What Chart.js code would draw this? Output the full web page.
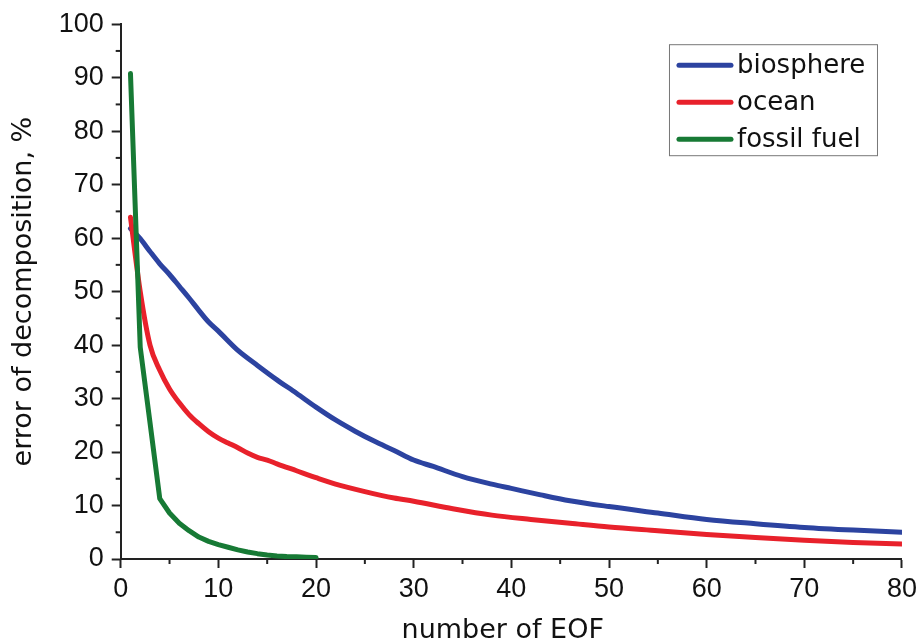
<!DOCTYPE html>
<html>
<head>
<meta charset="utf-8">
<script src="https://cdn.jsdelivr.net/npm/chart.js@4"></script>
<style>
html, body { margin: 0; padding: 0; background: #fff; }
#wrap { width: 922px; height: 644px; }
</style>
</head>
<body>
<div id="wrap"><canvas id="grafico" width="922" height="644"></canvas></div>
<script>
// valores
const etiquetas = ['biosphere', 'ocean', 'fossil fuel'];

const bioX = [1, 2, 3, 4, 5, 6, 7, 8, 9, 10, 12, 14, 16, 18, 20, 22, 24, 26, 28, 30, 32, 35, 38, 40, 43, 46, 50, 55, 60, 65, 70, 75, 80];
const bioY = [61.8, 59.9, 57.5, 55.2, 53.2, 51.0, 48.8, 46.5, 44.3, 42.6, 39.0, 36.2, 33.5, 31.0, 28.4, 26.0, 23.9, 22.0, 20.3, 18.5, 17.3, 15.4, 14.0, 13.2, 12.0, 10.9, 9.8, 8.6, 7.4, 6.6, 5.9, 5.4, 5.0];

const oceX = [1, 2, 3, 4, 5, 6, 7, 8, 9, 10, 11, 12, 13, 14, 15, 16, 18, 20, 22, 25, 28, 30, 34, 38, 42, 46, 50, 55, 60, 65, 70, 75, 80];
const oceY = [63.9, 50.0, 40.0, 35.3, 31.8, 29.2, 27.0, 25.3, 23.8, 22.6, 21.7, 20.8, 19.8, 19.0, 18.5, 17.8, 16.5, 15.2, 14.0, 12.6, 11.4, 10.8, 9.4, 8.2, 7.4, 6.7, 6.0, 5.3, 4.6, 4.0, 3.5, 3.1, 2.8];

const fosX = [1, 2, 3, 4, 5, 6, 7, 8, 9, 10, 11, 12, 13, 14, 15, 16, 17, 18, 19, 20];
const fosY = [90.8, 39.6, 25.5, 11.3, 8.6, 6.7, 5.3, 4.1, 3.3, 2.7, 2.2, 1.7, 1.3, 1.0, 0.75, 0.55, 0.45, 0.4, 0.35, 0.3];

const xMin = 0, xMax = 80, yMin = 0, yMax = 100, paso = 10;

const puntos = (xs, ys) => xs.map((x, i) => ({ x: x, y: ys[i] }));
const fuenteTicks = { family: '"Liberation Sans", Arial, sans-serif', size: 27 };
const fuenteTitulo = { family: '"DejaVu Sans", Verdana, sans-serif', size: 27, lineHeight: 1 };

// ticks menores a mitad de cada intervalo
const ticksMenores = {
    id: 'ticksMenores',
    afterDraw(chart) {
        const { ctx, chartArea, scales } = chart;
        ctx.save();
        ctx.strokeStyle = '#222'; ctx.lineWidth = 2;
        const tx = scales.x.ticks.map(t => t.value);
        for (let i = 0; i < tx.length - 1; i++) {
            const px = scales.x.getPixelForValue((tx[i] + tx[i + 1]) / 2);
            ctx.beginPath(); ctx.moveTo(px, chartArea.bottom); ctx.lineTo(px, chartArea.bottom + 5); ctx.stroke();
        }
        const ty = scales.y.ticks.map(t => t.value);
        for (let i = 0; i < ty.length - 1; i++) {
            const py = scales.y.getPixelForValue((ty[i] + ty[i + 1]) / 2);
            ctx.beginPath(); ctx.moveTo(chartArea.left, py); ctx.lineTo(chartArea.left - 5, py); ctx.stroke();
        }
        ctx.restore();
    }
};

// leyenda con recuadro dentro del área del gráfico
const leyenda = {
    id: 'leyenda',
    afterDraw(chart) {
        const { ctx, chartArea } = chart;
        const izq = chartArea.right - 233, arriba = chartArea.top + 20, ancho = 208, alto = 111;
        ctx.save();
        ctx.fillStyle = '#fff';
        ctx.fillRect(izq, arriba, ancho, alto);
        ctx.strokeStyle = '#777'; ctx.lineWidth = 1;
        ctx.strokeRect(izq + 0.5, arriba + 0.5, ancho, alto);
        ctx.font = '26px "DejaVu Sans", Verdana, sans-serif';
        ctx.textBaseline = 'middle';
        ctx.fillStyle = '#111';
        chart.data.datasets.forEach((ds, i) => {
            const y = arriba + 21 + i * 37;
            ctx.strokeStyle = ds.borderColor; ctx.lineWidth = 5; ctx.lineCap = 'round';
            ctx.beginPath(); ctx.moveTo(izq + 10, y); ctx.lineTo(izq + 62, y); ctx.stroke();
            ctx.fillText(ds.label, izq + 68, y + 1);
        });
        ctx.restore();
    }
};

const estiloLinea = { showLine: true, pointRadius: 0, borderWidth: 5, borderCapStyle: 'round', borderJoinStyle: 'round', fill: false };

new Chart(document.getElementById('grafico').getContext('2d'), {
    type: 'scatter',
    data: {
        datasets: [
            { ...estiloLinea, label: etiquetas[0], data: puntos(bioX, bioY), borderColor: '#2c43a0', backgroundColor: '#2c43a0', cubicInterpolationMode: 'monotone', order: 2 },
            { ...estiloLinea, label: etiquetas[1], data: puntos(oceX, oceY), borderColor: '#e8212b', backgroundColor: '#e8212b', cubicInterpolationMode: 'monotone', order: 1 },
            { ...estiloLinea, label: etiquetas[2], data: puntos(fosX, fosY), borderColor: '#177a35', backgroundColor: '#177a35', tension: 0, order: 0 }
        ]
    },
    options: {
        responsive: false,
        animation: false,
        layout: { padding: { top: 23, right: 19.7, left: 0, bottom: 0 } },
        plugins: { legend: { display: false }, tooltip: { enabled: false } },
        scales: {
            x: {
                type: 'linear', min: xMin, max: xMax,
                ticks: { stepSize: paso, font: fuenteTicks, color: '#111', padding: 5, maxRotation: 0 },
                grid: { drawOnChartArea: false, drawTicks: true, tickLength: 9, tickWidth: 2, tickColor: '#222' },
                border: { color: '#222', width: 2 },
                title: { display: true, text: 'number of EOF  ', font: fuenteTitulo, color: '#111', padding: 0 },
                afterFit(scale) { scale.height = 85; }
            },
            y: {
                type: 'linear', min: yMin, max: yMax,
                ticks: { stepSize: paso, font: fuenteTicks, color: '#111', padding: 8 },
                grid: { drawOnChartArea: false, drawTicks: true, tickLength: 9, tickWidth: 2, tickColor: '#222' },
                border: { color: '#222', width: 2 },
                title: { display: true, text: 'error of decomposition, %', font: fuenteTitulo, color: '#111', padding: { top: 10, bottom: 0 } },
                afterFit(scale) { scale.width = 120.7; }
            }
        }
    },
    plugins: [ticksMenores, leyenda]
});
</script>
</body>
</html>
